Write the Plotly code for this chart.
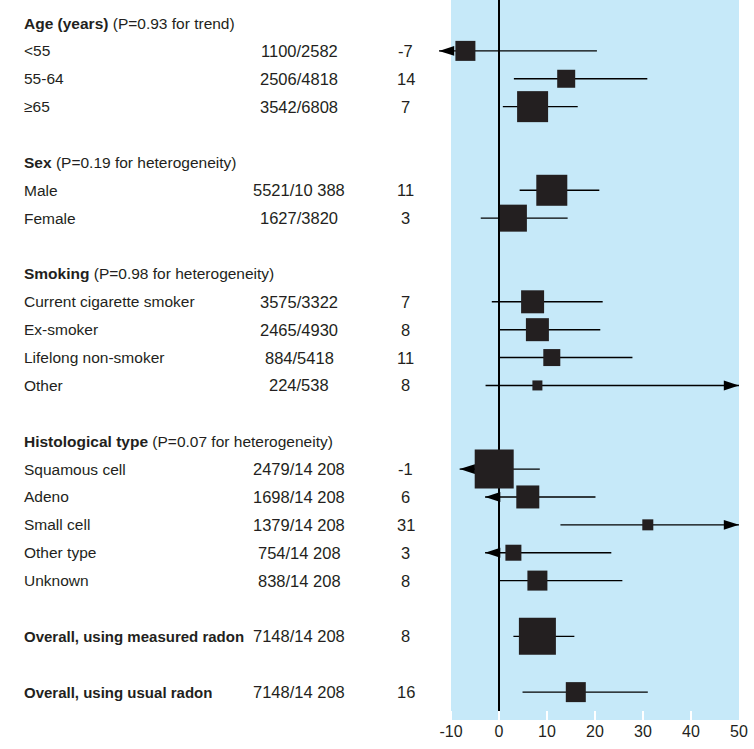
import plotly.graph_objects as go

# rows of the table, top to bottom ("" = blank spacer row)
labels = [
    "<b>Age (years)</b> (P=0.93 for trend)", "&lt;55", "55-64", "≥65", "",
    "<b>Sex</b> (P=0.19 for heterogeneity)", "Male", "Female", "",
    "<b>Smoking</b> (P=0.98 for heterogeneity)", "Current cigarette smoker",
    "Ex-smoker", "Lifelong non-smoker", "Other", "",
    "<b>Histological type</b> (P=0.07 for heterogeneity)", "Squamous cell",
    "Adeno", "Small cell", "Other type", "Unknown", "",
    "<b>Overall, using measured radon</b>", "",
    "<b>Overall, using usual radon</b>",
]
cases = [
    "", "1100/2582", "2506/4818", "3542/6808", "",
    "", "5521/10 388", "1627/3820", "",
    "", "3575/3322", "2465/4930", "884/5418", "224/538", "",
    "", "2479/14 208", "1698/14 208", "1379/14 208", "754/14 208", "838/14 208", "",
    "7148/14 208", "",
    "7148/14 208",
]
est = [None, -7, 14, 7, None, None, 11, 3, None, None, 7, 8, 11, 8, None,
       None, -1, 6, 31, 3, 8, None, 8, None, 16]
lo = [None, -12.5, 3.1, 0.8, None, None, 4.3, -3.8, None, None, -1.5, 0.0, 0.0, -2.8, None,
      None, -8.2, -2.9, 12.8, -2.9, 0.0, None, 3.0, None, 4.9]
hi = [None, 20.4, 30.9, 16.4, None, None, 20.9, 14.3, None, None, 21.6, 21.1, 27.8, 50, None,
      None, 8.5, 20.1, 50, 23.4, 25.7, None, 15.7, None, 31.0]
# relative weight of each estimate (drawn as box size)
weight = [None, 20, 18, 31, None, None, 31, 27, None, None, 23, 23, 17, 10, None,
          None, 39, 23, 11, 16, 20, None, 37, None, 20]
# CI limits that run off the scale (drawn as arrows)
arrow_lo = ["&lt;55", "Squamous cell", "Adeno", "Other type"]
arrow_hi = ["Other", "Small cell"]

scale_min, scale_max = -10, 50
tick_vals = [-10, 0, 10, 20, 30, 40, 50]
tick_text = ["-10", "0", "10", "20", "30", "40", "50"]

ink = "#231f20"
rows = list(range(len(labels)))
data_rows = [r for r in rows if est[r] is not None]

ci_x, ci_y = [], []
tip_x, tip_y, tip_angle = [], [], []
for r in data_rows:
    ci_x += [lo[r], hi[r], None]
    ci_y += [r, r, None]
    if labels[r] in arrow_lo:
        tip_x.append(lo[r]); tip_y.append(r); tip_angle.append(-90)
    if labels[r] in arrow_hi:
        tip_x.append(hi[r]); tip_y.append(r); tip_angle.append(90)

fig = go.Figure()
# light blue panel covering the scale
fig.add_shape(type="rect", xref="x", yref="paper", x0=scale_min, x1=scale_max,
              y0=0, y1=1, fillcolor="#c6e9f9", line=dict(width=0), layer="below")
fig.add_trace(go.Scatter(x=ci_x, y=ci_y, mode="lines",
                         line=dict(color="black", width=1.4), hoverinfo="skip"))
fig.add_trace(go.Scatter(
    x=[est[r] for r in data_rows], y=data_rows, mode="markers",
    marker=dict(symbol="square", size=[weight[r] for r in data_rows],
                color=ink, opacity=1, line=dict(width=0)),
    cliponaxis=False,
))
# arrowheads for truncated intervals
fig.add_trace(go.Scatter(
    x=tip_x, y=tip_y, mode="markers",
    marker=dict(symbol="arrow", angle=tip_angle, size=16, color="black",
                opacity=1, line=dict(width=0)),
    cliponaxis=False, hoverinfo="skip",
))

# table text on the left
col_label, col_cases, col_est = -1.3204, -0.4239, -0.0777
for r in rows:
    if labels[r]:
        bold = labels[r].startswith("<b>Overall")
        fig.add_annotation(x=col_label, y=r, xref="paper", yref="y", text=labels[r],
                           showarrow=False, xanchor="left", yanchor="middle",
                           font=dict(size=15 if bold else 15.5))
    if cases[r]:
        fig.add_annotation(x=col_cases, y=r, xref="paper", yref="y", text=cases[r],
                           showarrow=False, xanchor="center", yanchor="middle",
                           font=dict(size=16.5))
    if est[r] is not None:
        fig.add_annotation(x=col_est, y=r, xref="paper", yref="y", text=str(est[r]),
                           showarrow=False, xanchor="center", yanchor="middle",
                           font=dict(size=16.5))

fig.update_layout(
    width=754, height=749,
    margin=dict(l=430, r=15, t=0, b=29),
    plot_bgcolor="white", paper_bgcolor="white",
    showlegend=False,
    font=dict(family="Liberation Sans, Arial, sans-serif", size=16, color=ink),
)
fig.update_xaxes(
    range=[scale_min - 21 / 4.8, scale_max], tickvals=tick_vals, ticktext=tick_text,
    ticks="inside", tickcolor="white", ticklen=9, tickwidth=2,
    showgrid=False, showline=False,
    zeroline=True, zerolinecolor="black", zerolinewidth=1.5,
    tickfont=dict(size=16),
)
fig.update_yaxes(range=[25.0, -0.825], visible=False)

fig.write_html("out.html", config={"displayModeBar": False},
               post_script="document.body.style.margin='0px';")
